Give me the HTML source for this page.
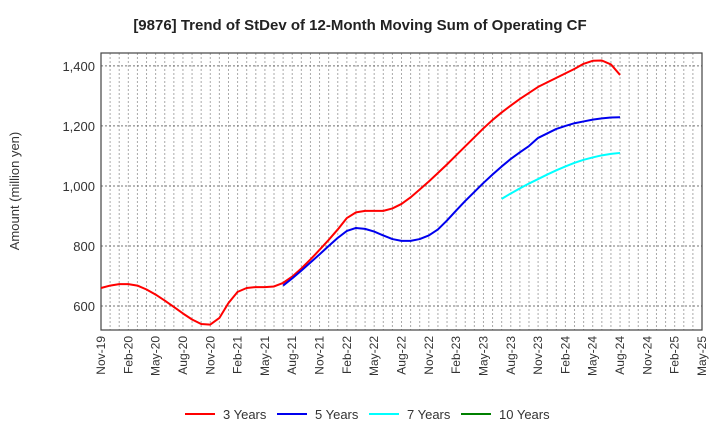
<!DOCTYPE html>
<html><head><meta charset="utf-8"><style>
body{margin:0;background:#fff;font-family:"Liberation Sans",sans-serif}
</style></head><body>
<svg width="720" height="440" xmlns="http://www.w3.org/2000/svg" font-family="Liberation Sans, sans-serif">
<text x="360" y="30" text-anchor="middle" font-size="15" font-weight="bold" fill="#222">[9876]  Trend of StDev of 12-Month Moving Sum of Operating CF</text>
<text transform="translate(19,191) rotate(-90)" text-anchor="middle" font-size="13" fill="#333">Amount (million yen)</text>
<g id="grid"></g><g id="axes"></g><g id="series"></g><g id="legend"></g>
</svg>
<script>
const xLabels=["Nov-19","Feb-20","May-20","Aug-20","Nov-20","Feb-21","May-21","Aug-21","Nov-21","Feb-22","May-22","Aug-22","Nov-22","Feb-23","May-23","Aug-23","Nov-23","Feb-24","May-24","Aug-24","Nov-24","Feb-25","May-25"];
const yTicks=[600,800,1000,1200,1400];
const yTickLabels=["600","800","1,000","1,200","1,400"];
const s3=[660,668,673,673,668,655,638,618,597,575,555,540,538,560,610,647,660,663,663,665,677,698,725,755,787,820,855,893,912,917,917,917,925,940,962,988,1015,1043,1072,1102,1132,1162,1192,1220,1245,1268,1290,1310,1330,1345,1360,1375,1390,1407,1417,1418,1405,1370];
const s5=[668,692,718,745,772,800,827,850,860,857,848,835,823,817,817,823,835,855,885,918,950,980,1010,1038,1065,1090,1112,1133,1160,1175,1190,1200,1209,1215,1221,1225,1228,1229];
const s5Start=20;
const s7=[957,975,992,1008,1023,1038,1052,1065,1077,1087,1095,1102,1107,1110];
const s7Start=44;
const s10=[];
const X0=101,X1=702,Y0=53,Y1=330,NM=66,YMIN=520,YMAX=1443;
const xs=i=>X0+(X1-X0)*i/NM;
const ys=v=>Y1-(v-YMIN)/(YMAX-YMIN)*(Y1-Y0);
const NS="http://www.w3.org/2000/svg";
function mk(t,a,p){const e=document.createElementNS(NS,t);for(const k in a)e.setAttribute(k,a[k]);p.appendChild(e);return e;}
const grid=document.getElementById('grid'),axes=document.getElementById('axes'),ser=document.getElementById('series'),leg=document.getElementById('legend');
for(let m=1;m<NM;m++){const l=mk('line',{x1:xs(m),x2:xs(m),y1:Y0,y2:Y1,stroke:'#aaa','stroke-dasharray':'2,2','stroke-width':1},grid);

}
yTicks.forEach((v,i)=>{const l=mk('line',{x1:X0,x2:X1,y1:ys(v),y2:ys(v),stroke:'#777','stroke-dasharray':'2,2','stroke-width':1},grid);


const t=mk('text',{x:X0-6,y:ys(v)+5,'text-anchor':'end','font-size':13,fill:'#333'},axes);t.textContent=yTickLabels[i];

});
const fr=mk('rect',{x:X0,y:Y0,width:X1-X0,height:Y1-Y0,fill:'none',stroke:'#444','stroke-width':1.2},axes);


xLabels.forEach((s,i)=>{const x=xs(i*3);const t=mk('text',{transform:`translate(${x+4},${Y1+6}) rotate(-90)`,'text-anchor':'end','font-size':12,fill:'#333'},axes);t.textContent=s;

});
function line(data,start,color,name){if(!data.length)return;const p=mk('polyline',{points:data.map((v,i)=>xs(start+i)+','+ys(v)).join(' '),fill:'none',stroke:color,'stroke-width':2,'stroke-linejoin':'round'},ser);

}
line(s3,0,'#ff0000','line-3-years');line(s5,s5Start,'#0000ee','line-5-years');line(s7,s7Start,'#00ffff','line-7-years');line(s10,0,'#008000','line-10-years');
const legItems=[["3 Years","#ff0000",185],["5 Years","#0000ee",277],["7 Years","#00ffff",369],["10 Years","#008000",461]];
legItems.forEach(([n,c,x])=>{const g=mk('g',{},leg);


mk('line',{x1:x,x2:x+30,y1:414,y2:414,stroke:c,'stroke-width':2},g);const t=mk('text',{x:x+38,y:419,'font-size':13,fill:'#333'},g);t.textContent=n;});
</script>
</body></html>
